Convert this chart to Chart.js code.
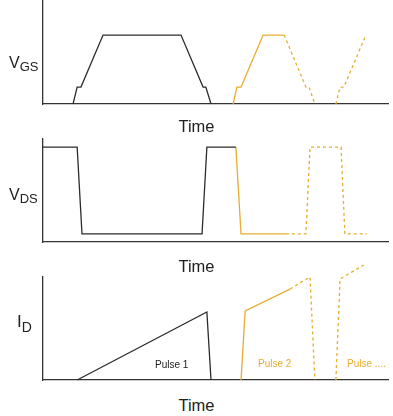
<!DOCTYPE html>
<html>
<head>
<meta charset="utf-8">
<script src="https://cdn.jsdelivr.net/npm/chart.js@4.4.1/dist/chart.umd.min.js"></script>
<style>
  html, body { margin: 0; padding: 0; background: #fff; }
  #wrap { position: relative; width: 393px; height: 416px; overflow: hidden; font-family: "Liberation Sans", Arial, sans-serif; color: #222; }
  canvas { position: absolute; left: 0; }
  .lbl { position: absolute; line-height: 1; white-space: nowrap; }
  .time { left: 0; width: 393px; text-align: center; font-size: 16.5px; }
  .sub { position: relative; }
  .pulse { font-size: 10px; }
</style>
</head>
<body>
<div id="wrap">
  <canvas id="vgsChart" style="top:0px" width="393" height="110"></canvas>
  <canvas id="vdsChart" style="top:130px" width="393" height="120"></canvas>
  <canvas id="idChart" style="top:255px" width="393" height="135"></canvas>

  <div class="lbl" style="left:9px;top:55px;font-size:16px">V<span class="sub" style="font-size:13px;top:3px">GS</span></div>
  <div class="lbl" style="left:9px;top:187px;font-size:16px">V<span class="sub" style="font-size:13px;top:3px">DS</span></div>
  <div class="lbl" style="left:17px;top:313px;font-size:17px">I<span class="sub" style="font-size:14px;top:5px">D</span></div>

  <div class="lbl time" style="top:118px">Time</div>
  <div class="lbl time" style="top:258px">Time</div>
  <div class="lbl time" style="top:397px">Time</div>

  <div class="lbl pulse" style="left:155px;top:360px;color:#222">Pulse 1</div>
  <div class="lbl pulse" style="left:258px;top:359px;color:#e6ad2e">Pulse 2</div>
  <div class="lbl pulse" style="left:347px;top:359px;color:#e6ad2e">Pulse ....</div>
</div>
<script>
// time axis in % of the plotted window, signal levels in % of full scale
const timeMin = 0;
const timeMax = 100;

// V_GS
const vgsPulse1X = [8.7, 9.9, 11.0, 17.4, 40.0, 46.4, 47.2, 48.7];
const vgsPulse1Y = [0, 16.3, 16.3, 66.3, 66.3, 16.3, 16.3, 0];
const vgsPulse2X = [55.1, 56.2, 57.4, 63.8, 69.9];
const vgsPulse2Y = [0, 16.3, 16.3, 66.3, 66.3];
const vgsNextX = [69.9, 76.2, 77.1, 78.8, 81.8, 84.9, 86.1, 87.2, 93.6];
const vgsNextY = [66.3, 16.3, 16.3, 0, null, 0, 16.3, 16.3, 66.3];

// V_DS
const vdsPulse1X = [0, 9.9, 11.3, 46.1, 47.5, 55.9];
const vdsPulse1Y = [92.2, 92.2, 7.8, 7.8, 92.2, 92.2];
const vdsPulse2X = [55.9, 57.4, 70.4];
const vdsPulse2Y = [92.2, 7.8, 7.8];
const vdsNextX = [70.4, 76.2, 77.4, 86.4, 87.5, 93.9];
const vdsNextY = [7.8, 7.8, 92.2, 92.2, 7.8, 7.8];

// I_D
const idPulse1X = [9.9, 47.5, 48.7];
const idPulse1Y = [0, 66.0, 0];
const idPulse2X = [57.4, 58.6, 71.6];
const idPulse2Y = [0, 67.0, 88.3];
const idNextX = [71.6, 77.4, 78.8, 81.8, 84.9, 86.1, 93.0];
const idNextY = [88.3, 100, 0, null, 0, 98.1, 111.7];

const black = "#2b2b2b";
const orange = "#e6ad2e";

function pts(xs, ys) {
  return xs.map(function (x, i) { return { x: x, y: ys[i] }; });
}

function line(xs, ys, color, dashed) {
  return {
    data: pts(xs, ys),
    borderColor: color,
    borderWidth: 1.3,
    borderDash: dashed ? [3, 3] : [],
    pointRadius: 0,
    tension: 0,
    spanGaps: false,
    clip: false,
  };
}

function makeChart(id, datasets, pad) {
  const axis = {
    type: "linear",
    ticks: { display: false },
    grid: { display: false, drawTicks: false },
    border: { display: true, color: "#333", width: 1.3 },
  };
  return new Chart(document.getElementById(id), {
    type: "line",
    data: { datasets: datasets },
    options: {
      responsive: false,
      animation: false,
      events: [],
      layout: { padding: pad },
      plugins: { legend: { display: false }, tooltip: { enabled: false } },
      scales: {
        x: Object.assign({}, axis, { min: timeMin, max: timeMax }),
        y: Object.assign({}, axis, { min: 0, max: 100 }),
      },
    },
  });
}

makeChart("vgsChart", [
  line(vgsPulse1X, vgsPulse1Y, black, false),
  line(vgsPulse2X, vgsPulse2Y, orange, false),
  line(vgsNextX, vgsNextY, orange, true),
], { left: 43, right: 5, top: 0, bottom: 6 });

makeChart("vdsChart", [
  line(vdsPulse1X, vdsPulse1Y, black, false),
  line(vdsPulse2X, vdsPulse2Y, orange, false),
  line(vdsNextX, vdsNextY, orange, true),
], { left: 43, right: 5, top: 9, bottom: 8 });

makeChart("idChart", [
  line(idPulse1X, idPulse1Y, black, false),
  line(idPulse2X, idPulse2Y, orange, false),
  line(idNextX, idNextY, orange, true),
], { left: 43, right: 5, top: 22, bottom: 10 });
</script>
</body>
</html>
